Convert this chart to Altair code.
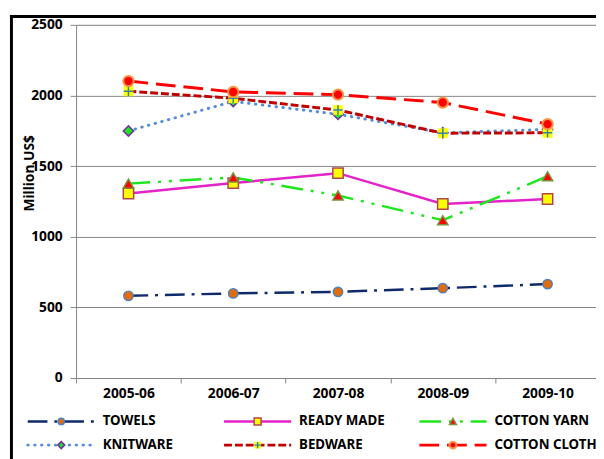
import json
import altair as alt
import pandas as pd

years = ["2005-06", "2006-07", "2007-08", "2008-09", "2009-10"]
towels = [582, 599, 610, 636, 665]
ready_made = [1306, 1380, 1450, 1232, 1267]
cotton_yarn = [1376, 1420, 1292, 1117, 1428]
knitware = [1749, 1958, 1867, 1736, 1760]
bedware = [2030, 1980, 1897, 1733, 1736]
cotton_cloth = [2102, 2025, 2006, 1950, 1797]

series_names = ["TOWELS", "READY MADE", "COTTON YARN", "KNITWARE", "BEDWARE", "COTTON CLOTH"]
series_values = [towels, ready_made, cotton_yarn, knitware, bedware, cotton_cloth]

FONT = "Noto Sans"
FS = 14
LFS = 13.5
GRID = "#868686"

styles = {
    "TOWELS": dict(color="#0E2A6B", dash=[20, 7, 3, 7], width=2.5, cap="butt",
                   markers=[dict(shape="circle", fill="#E36C0A", stroke="#4F81BD", size=90, sw=1.5)]),
    "READY MADE": dict(color="#E323C8", dash=[], width=2.5, cap="butt",
                       markers=[dict(shape="square", fill="#FFFF00", stroke="#B0464A", size=110, sw=1.5)]),
    "COTTON YARN": dict(color="#1EE61E", dash=[22, 8, 3, 8, 3, 8], width=2.5, cap="butt",
                        markers=[dict(shape="triangle-up", fill="#FF0000", stroke="#77933C", size=110, sw=1.5)]),
    "KNITWARE": dict(color="#558ED5", dash=[0.5, 6.5], width=3, cap="round",
                     markers=[dict(shape="diamond", fill="#22E022", stroke="#7030A0", size=110, sw=1.5)]),
    "BEDWARE": dict(color="#C00000", dash=[8, 3], width=3, cap="butt",
                    markers=[dict(shape="square", fill="#FFFF00", stroke="#FFFF00", size=90, sw=0.5),
                             dict(shape="M-1,0L1,0M0,-1L0,1", fill="transparent", stroke="#31859C", size=90, sw=1.5)]),
    "COTTON CLOTH": dict(color="#FF0000", dash=[20, 8], width=3, cap="butt",
                         markers=[dict(shape="circle", fill="#FF0000", stroke="#F79646", size=110, sw=2)]),
}

W, H = 527, 358
step = 106.2
label_expr = json.dumps(years) + "[round(datum.value + 0.5)]"

x_enc = alt.X("idx:Q",
              scale=alt.Scale(domain=[-0.5, -0.5 + W / step], nice=False, zero=False),
              axis=alt.Axis(title=None, labelAngle=0, grid=False,
                            values=[i - 0.5 for i in range(len(years))],
                            labelExpr=label_expr, labelOffset=step / 2,
                            domainColor=GRID, tickColor=GRID, tickSize=5,
                            labelFont=FONT, labelFontWeight="bold", labelFontSize=FS,
                            labelColor="black", labelPadding=4, labelAlign="center",
                            labelFlush=False, labelOverlap=False))
y_enc = alt.Y("value:Q", scale=alt.Scale(domain=[0, 2500]),
              axis=alt.Axis(values=[0, 500, 1000, 1500, 2000, 2500], format="d", title="Million US$",
                            gridColor=GRID, domainColor=GRID, tickColor=GRID, tickSize=6,
                            labelFont=FONT, labelFontWeight="bold", labelFontSize=FS,
                            labelColor="black", labelPadding=8,
                            titleFont=FONT, titleFontWeight="bold", titleFontSize=FS,
                            titleColor="black", titleX=-47, titleY=150, titleAngle=270,
                            titleAlign="center", titleBaseline="middle"))

fdf = pd.DataFrame({"k": [0]})
frame_top = alt.Chart(fdf).mark_rule(color="black", strokeWidth=3, clip=False).encode(
    x=alt.value(-67), x2=alt.value(560), y=alt.value(-8.5))
frame_left = alt.Chart(fdf).mark_rule(color="black", strokeWidth=3, clip=False).encode(
    x=alt.value(-65.5), y=alt.value(-10), y2=alt.value(470))

line_layers = []
point_layers = []
for name, vals in zip(series_names, series_values):
    s = styles[name]
    df = pd.DataFrame({"idx": list(range(len(years))), "year": years, "value": vals, "series": name})
    lk = dict(color=s["color"], strokeWidth=s["width"], strokeCap=s["cap"])
    if s["dash"]:
        lk["strokeDash"] = s["dash"]
    line_layers.append(alt.Chart(df).mark_line(**lk).encode(x=x_enc, y=y_enc))
    for m in s["markers"]:
        point_layers.append(alt.Chart(df).mark_point(
            shape=m["shape"], fill=m["fill"], stroke=m["stroke"], size=m["size"],
            strokeWidth=m["sw"], filled=m["fill"] != "transparent", opacity=1
        ).encode(x=x_enc, y=y_enc))

legend_layers = []
col_left = [-49, 150, 348]
row_y = [402, 426]
seg_len = 68
for i, name in enumerate(series_names):
    s = styles[name]
    c, r = i % 3, i // 3
    x0 = col_left[c]
    yy = row_y[r]
    ldf = pd.DataFrame({"series": [name]})
    rk = dict(color=s["color"], strokeWidth=s["width"], strokeCap=s["cap"])
    if s["dash"]:
        rk["strokeDash"] = s["dash"]
    legend_layers.append(alt.Chart(ldf).mark_rule(**rk).encode(
        x=alt.value(x0), x2=alt.value(x0 + seg_len), y=alt.value(yy)))
    for m in s["markers"]:
        legend_layers.append(alt.Chart(ldf).mark_point(
            shape=m["shape"], fill=m["fill"], stroke=m["stroke"], size=m["size"] * 0.45,
            strokeWidth=m["sw"], filled=m["fill"] != "transparent", opacity=1
        ).encode(x=alt.value(x0 + 34), y=alt.value(yy)))
    legend_layers.append(alt.Chart(ldf).mark_text(
        align="left", baseline="middle", font=FONT, fontWeight="bold", fontSize=LFS, color="black"
    ).encode(text="series:N", x=alt.value(x0 + 76), y=alt.value(yy)))

chart = alt.layer(*line_layers, *point_layers, *legend_layers, frame_top, frame_left).properties(
    width=W, height=H,
    padding={"left": 69, "top": 14, "right": 0, "bottom": 79},
    autosize=alt.AutoSizeParams(type="none"),
).configure_view(stroke=None).configure(background="white")

chart.save("out.html", embed_options={"renderer": "svg", "actions": False})
